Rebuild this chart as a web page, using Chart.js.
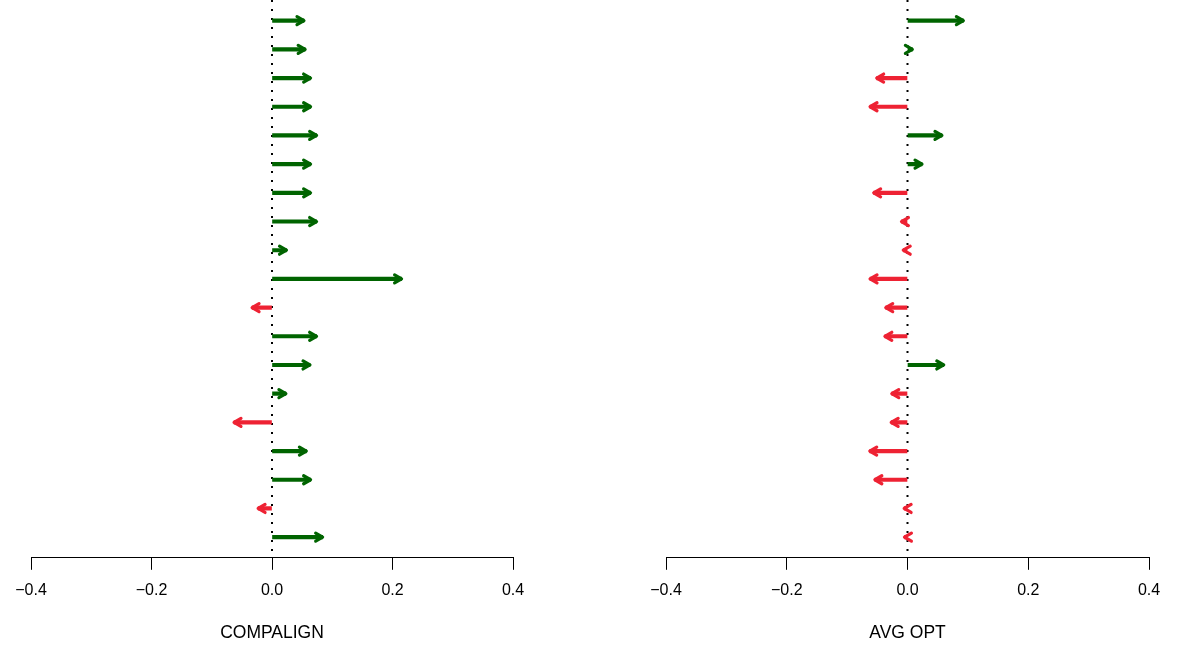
<!DOCTYPE html>
<html>
<head>
<meta charset="utf-8">
<script src="https://cdn.jsdelivr.net/npm/chart.js@4.4.0/dist/chart.umd.min.js"></script>
<style>
  body { margin: 0; background: #fff; }
  .panel { position: absolute; top: 0; }
</style>
</head>
<body>
<div class="panel" style="left:0"><canvas id="left" width="600" height="647"></canvas></div>
<div class="panel" style="left:600px"><canvas id="right" width="600" height="647"></canvas></div>
<script>
// rows from top (1) to bottom (19)
const rows = [1, 2, 3, 4, 5, 6, 7, 8, 9, 10, 11, 12, 13, 14, 15, 16, 17, 18, 19];
const compalign = [0.053, 0.055, 0.064, 0.064, 0.074, 0.064, 0.064, 0.074, 0.024, 0.215,
                   -0.033, 0.074, 0.063, 0.023, -0.063, 0.057, 0.064, -0.023, 0.084];
const avgOpt = [0.0925, 0.008, -0.051, -0.062, 0.057, 0.024, -0.056, -0.010, -0.007, -0.062,
                -0.036, -0.0375, 0.060, -0.026, -0.027, -0.0625, -0.054, -0.0055, -0.005];
const xTicks = [-0.4, -0.2, 0.0, 0.2, 0.4];

const GREEN = '#006400';
const RED = '#EE2233';

// dotted zero line
const zeroLine = {
  id: 'zeroLine',
  beforeDatasetsDraw(chart) {
    const ctx = chart.ctx, x = chart.scales.x.getPixelForValue(0);
    ctx.save();
    ctx.strokeStyle = '#000';
    ctx.lineWidth = 2;
    ctx.setLineDash([2, 7]);
    ctx.beginPath();
    ctx.moveTo(x, chart.chartArea.top);
    ctx.lineTo(x, chart.chartArea.bottom);
    ctx.stroke();
    ctx.restore();
  }
};

// open arrow heads (thick V) at the bar tips
const arrowHeads = {
  id: 'arrowHeads',
  afterDatasetsDraw(chart) {
    const ctx = chart.ctx;
    const xs = chart.scales.x, ys = chart.scales.y;
    const vals = chart.data.datasets[0].data;
    const L = 8, a = Math.PI / 6;
    ctx.save();
    vals.forEach(d => {
      const v = d.x[1];
      const dir = v >= 0 ? 1 : -1;
      const xt = xs.getPixelForValue(v), y = ys.getPixelForValue(d.y);
      ctx.strokeStyle = v >= 0 ? GREEN : RED;
      ctx.lineWidth = 3.2;
      ctx.lineJoin = 'round';
      ctx.lineCap = 'round';
      ctx.beginPath();
      ctx.moveTo(xt - dir * L * Math.cos(a), y - L * Math.sin(a));
      ctx.lineTo(xt, y);
      ctx.lineTo(xt - dir * L * Math.cos(a), y + L * Math.sin(a));
      ctx.stroke();
    });
    ctx.restore();
  }
};

function makePanel(id, values, title, padL, padR) {
  new Chart(document.getElementById(id), {
    type: 'bar',
    data: {
      datasets: [{
        data: values.map((v, i) => ({ x: [0, v], y: rows[i] })),
        backgroundColor: values.map(v => v >= 0 ? GREEN : RED),
        borderWidth: 0,
        barThickness: 3.5
      }]
    },
    options: {
      indexAxis: 'y',
      responsive: false,
      devicePixelRatio: 1,
      animation: false,
      layout: { padding: { left: padL, right: padR, top: 0, bottom: 3 } },
      plugins: { legend: { display: false }, tooltip: { enabled: false } },
      scales: {
        y: { type: 'linear', min: 0.28, max: 19.72, reverse: true, offset: false, display: false },
        x: {
          type: 'linear', min: -0.4, max: 0.4,
          afterBuildTicks(s) { s.ticks = xTicks.map(v => ({ value: v })); },
          border: { display: true, color: '#000', width: 1 },
          grid: { drawOnChartArea: false, drawTicks: true, tickLength: 12, color: '#000' },
          ticks: {
            color: '#000', padding: 11,
            font: { family: 'Liberation Sans, Arial, sans-serif', size: 16 },
            callback: v => v.toFixed(1).replace('-', '\u2212')
          },
          title: {
            display: true, text: title, color: '#000',
            font: { family: 'Liberation Sans, Arial, sans-serif', size: 17.5 },
            padding: { top: 12, bottom: 0 }
          }
        }
      }
    },
    plugins: [zeroLine, arrowHeads]
  });
}

makePanel('left', compalign, 'COMPALIGN', 31, 87);
makePanel('right', avgOpt, 'AVG OPT', 66, 51);
</script>
</body>
</html>
